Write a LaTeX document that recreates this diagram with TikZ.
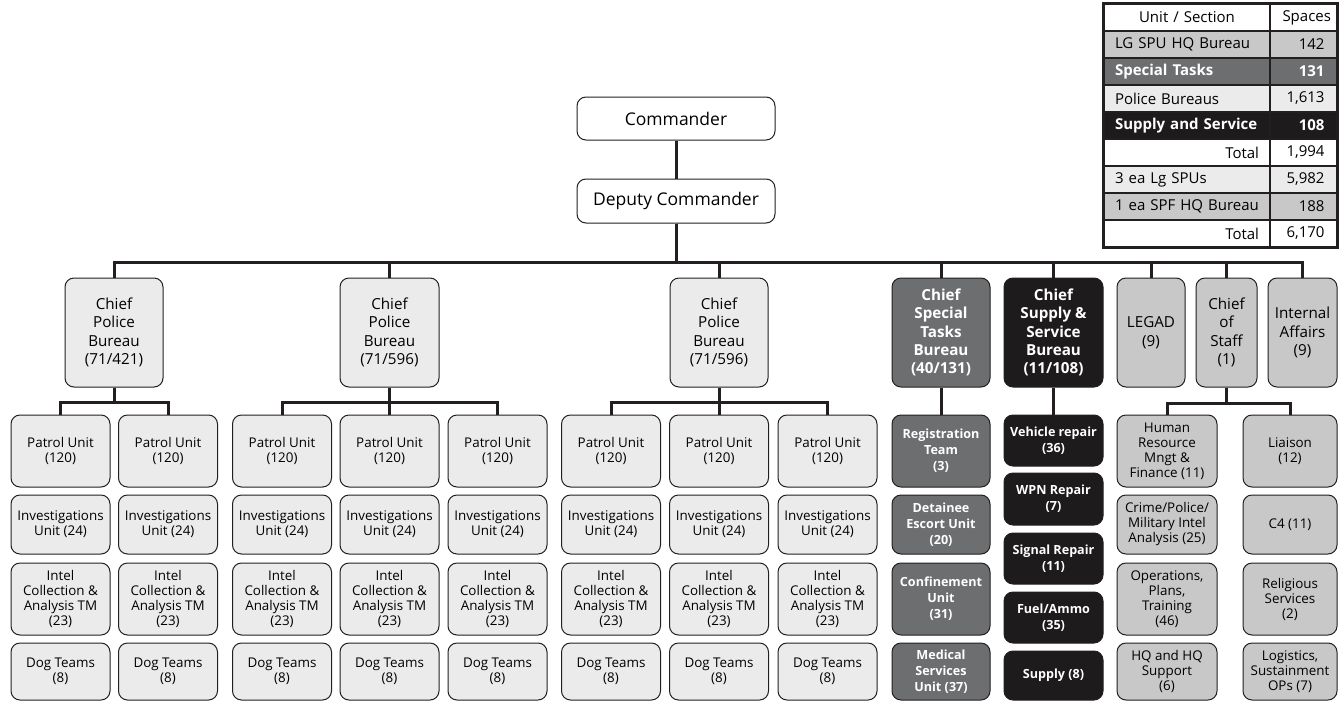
\documentclass[tikz,border=0pt]{standalone}
\usepackage{fontspec}
\setmainfont{Open Sans}
\definecolor{boxlight}{HTML}{EBEBEC}
\definecolor{boxmid}{HTML}{C8C8C9}
\definecolor{boxdark}{HTML}{6D6E70}
\definecolor{boxblack}{HTML}{1E1B1C}
\definecolor{inkline}{HTML}{231F20}
\tikzset{
  box/.style={draw=inkline, line width=1pt, rounded corners=9pt, align=center, inner sep=1pt},
  lightbox/.style={box, fill=boxlight},
  midbox/.style={box, fill=boxmid},
  darkbox/.style={box, fill=boxdark, text=white, font=\bfseries\fontsize{12.6}{16}\selectfont},
  blackbox/.style={box, fill=boxblack, text=white, font=\bfseries\fontsize{12.6}{16}\selectfont},
  topbox/.style={lightbox, fill=white, minimum width=198pt, font=\fontsize{17.5}{20}\selectfont},
  chief/.style={minimum height=109pt, font=\fontsize{15.2}{18.5}\selectfont},
  unit/.style={lightbox, minimum width=99pt, font=\fontsize{13.4}{15}\selectfont},
  link/.style={draw=inkline, line width=3pt},
  cell/.style={draw=inkline, line width=1.4pt, minimum height=27pt, inner ysep=0pt,
    font=\fontsize{15}{17}\selectfont},
  lcell/.style={cell, text width=144pt, inner xsep=11pt},
  rcell/.style={cell, text width=42pt, inner xsep=12.5pt, align=right},
}
\begin{document}
\begin{tikzpicture}[x=1pt, y=-1pt]
    \useasboundingbox (0,0) rectangle (1339,702);

    % Nodes
    \node[topbox, minimum height=43pt] (cmd) at (676,118.5) {Commander};
    \node[topbox, minimum height=44pt] (dep) at (676,201) {Deputy Commander};

    \node[lightbox, chief, minimum width=98pt] (cpb1) at (114,332.5) {Chief\\Police\\Bureau\\(71/421)};
    \node[lightbox, chief, minimum width=99pt] (cpb2) at (389.5,332.5) {Chief\\Police\\Bureau\\(71/596)};
    \node[lightbox, chief, minimum width=98pt] (cpb3) at (719,332.5) {Chief\\Police\\Bureau\\(71/596)};
    \node[darkbox, chief, font=\bfseries\fontsize{15.2}{18.3}\selectfont, minimum width=98pt] (cstb) at (941,332.5) {Chief\\Special\\Tasks\\Bureau\\(40/131)};
    \node[blackbox, chief, font=\bfseries\fontsize{15.2}{18.3}\selectfont, minimum width=99pt] (cssb) at (1053.5,332.5) {Chief\\Supply \&\\Service\\Bureau\\(11/108)};
    \node[midbox, chief, minimum width=68pt] (legad) at (1151,332.5) {LEGAD\\(9)};
    \node[midbox, chief, minimum width=61pt] (cos) at (1226.5,332.5) {Chief\\of\\Staff\\(1)};
    \node[midbox, chief, minimum width=69pt] (ia) at (1302.5,332.5) {Internal\\Affairs\\(9)};

    % police units, one column per unit
    \node[unit, minimum height=72pt] (pu1) at (60.5,451) {Patrol Unit\\(120)};
    \node[unit, minimum height=72pt] (pu2) at (168,451) {Patrol Unit\\(120)};
    \node[unit, minimum height=72pt] (pu3) at (282,451) {Patrol Unit\\(120)};
    \node[unit, minimum height=72pt] (pu4) at (389.5,451) {Patrol Unit\\(120)};
    \node[unit, minimum height=72pt] (pu5) at (497.5,451) {Patrol Unit\\(120)};
    \node[unit, minimum height=72pt] (pu6) at (611,451) {Patrol Unit\\(120)};
    \node[unit, minimum height=72pt] (pu7) at (719,451) {Patrol Unit\\(120)};
    \node[unit, minimum height=72pt] (pu8) at (827.5,451) {Patrol Unit\\(120)};

    \node[unit, minimum height=59pt] (iu1) at (60.5,524.5) {Investigations\\Unit (24)};
    \node[unit, minimum height=59pt] (iu2) at (168,524.5) {Investigations\\Unit (24)};
    \node[unit, minimum height=59pt] (iu3) at (282,524.5) {Investigations\\Unit (24)};
    \node[unit, minimum height=59pt] (iu4) at (389.5,524.5) {Investigations\\Unit (24)};
    \node[unit, minimum height=59pt] (iu5) at (497.5,524.5) {Investigations\\Unit (24)};
    \node[unit, minimum height=59pt] (iu6) at (611,524.5) {Investigations\\Unit (24)};
    \node[unit, minimum height=59pt] (iu7) at (719,524.5) {Investigations\\Unit (24)};
    \node[unit, minimum height=59pt] (iu8) at (827.5,524.5) {Investigations\\Unit (24)};

    \node[unit, minimum height=72pt] (ic1) at (60.5,599) {Intel\\Collection \&\\Analysis TM\\(23)};
    \node[unit, minimum height=72pt] (ic2) at (168,599) {Intel\\Collection \&\\Analysis TM\\(23)};
    \node[unit, minimum height=72pt] (ic3) at (282,599) {Intel\\Collection \&\\Analysis TM\\(23)};
    \node[unit, minimum height=72pt] (ic4) at (389.5,599) {Intel\\Collection \&\\Analysis TM\\(23)};
    \node[unit, minimum height=72pt] (ic5) at (497.5,599) {Intel\\Collection \&\\Analysis TM\\(23)};
    \node[unit, minimum height=72pt] (ic6) at (611,599) {Intel\\Collection \&\\Analysis TM\\(23)};
    \node[unit, minimum height=72pt] (ic7) at (719,599) {Intel\\Collection \&\\Analysis TM\\(23)};
    \node[unit, minimum height=72pt] (ic8) at (827.5,599) {Intel\\Collection \&\\Analysis TM\\(23)};

    \node[unit, minimum height=57pt] (dt1) at (60.5,671.5) {Dog Teams\\(8)};
    \node[unit, minimum height=57pt] (dt2) at (168,671.5) {Dog Teams\\(8)};
    \node[unit, minimum height=57pt] (dt3) at (282,671.5) {Dog Teams\\(8)};
    \node[unit, minimum height=57pt] (dt4) at (389.5,671.5) {Dog Teams\\(8)};
    \node[unit, minimum height=57pt] (dt5) at (497.5,671.5) {Dog Teams\\(8)};
    \node[unit, minimum height=57pt] (dt6) at (611,671.5) {Dog Teams\\(8)};
    \node[unit, minimum height=57pt] (dt7) at (719,671.5) {Dog Teams\\(8)};
    \node[unit, minimum height=57pt] (dt8) at (827.5,671.5) {Dog Teams\\(8)};

    % special tasks
    \node[darkbox, minimum width=98pt, minimum height=72pt] (reg) at (941,451) {Registration\\Team\\(3)};
    \node[darkbox, minimum width=98pt, minimum height=59pt] (deu) at (941,524.5) {Detainee\\Escort Unit\\(20)};
    \node[darkbox, minimum width=98pt, minimum height=72pt] (con) at (941,599) {Confinement\\Unit\\(31)};
    \node[darkbox, minimum width=98pt, minimum height=57pt] (med) at (941,671.5) {Medical\\Services\\Unit (37)};

    % supply and service
    \node[blackbox, minimum width=99pt, minimum height=51pt] (veh) at (1053.5,440.5) {Vehicle repair\\(36)};
    \node[blackbox, minimum width=99pt, minimum height=52pt] (wpn) at (1053.5,499) {WPN Repair\\(7)};
    \node[blackbox, minimum width=99pt, minimum height=51pt] (sig) at (1053.5,558.5) {Signal Repair\\(11)};
    \node[blackbox, minimum width=99pt, minimum height=51pt] (fuel) at (1053.5,617.5) {Fuel/Ammo\\(35)};
    \node[blackbox, minimum width=99pt, minimum height=49pt] (sup) at (1053.5,675.5) {Supply (8)};

    % staff sections
    \node[midbox, unit, fill=boxmid, minimum width=100pt, minimum height=72pt] (hr) at (1167,451) {Human\\Resource\\Mngt \&\\Finance (11)};
    \node[midbox, unit, fill=boxmid, minimum width=100pt, minimum height=59pt] (cpm) at (1167,524.5) {Crime/Police/\\Military Intel\\Analysis (25)};
    \node[midbox, unit, fill=boxmid, minimum width=100pt, minimum height=72pt] (opt) at (1167,599) {Operations,\\Plans,\\Training\\(46)};
    \node[midbox, unit, fill=boxmid, minimum width=100pt, minimum height=57pt] (hqs) at (1167,671.5) {HQ and HQ\\Support\\(6)};
    \node[midbox, unit, fill=boxmid, minimum width=94pt, minimum height=72pt] (lia) at (1290,451) {Liaison\\(12)};
    \node[midbox, unit, fill=boxmid, minimum width=94pt, minimum height=59pt] (cfour) at (1290,524.5) {C4 (11)};
    \node[midbox, unit, fill=boxmid, minimum width=94pt, minimum height=72pt] (rel) at (1290,599) {Religious\\Services\\(2)};
    \node[midbox, unit, fill=boxmid, minimum width=94pt, minimum height=57pt] (log) at (1290,671.5) {Logistics,\\Sustainment\\OPs (7)};

    % Edges
    \draw[link] (cmd) -- (dep);
    \draw[link] (dep.south) -- ++(0,39) -| (cpb1.north);
    \draw[link] (dep.south) -- ++(0,39) -| (cpb2.north);
    \draw[link] (dep.south) -- ++(0,39) -| (cpb3.north);
    \draw[link] (dep.south) -- ++(0,39) -| (cstb.north);
    \draw[link] (dep.south) -- ++(0,39) -| (cssb.north);
    \draw[link] (dep.south) -- ++(0,39) -| (legad.north);
    \draw[link] (dep.south) -- ++(0,39) -| (cos.north);
    \draw[link] (dep.south) -- ++(0,39) -| (ia.north);

    \draw[link] (cpb1.south) -- ++(0,15) -| (pu1.north);
    \draw[link] (cpb1.south) -- ++(0,15) -| (pu2.north);
    \draw[link] (cpb2.south) -- ++(0,15) -| (pu3.north);
    \draw[link] (cpb2.south) -- ++(0,15) -| (pu4.north);
    \draw[link] (cpb2.south) -- ++(0,15) -| (pu5.north);
    \draw[link] (cpb3.south) -- ++(0,15) -| (pu6.north);
    \draw[link] (cpb3.south) -- ++(0,15) -| (pu7.north);
    \draw[link] (cpb3.south) -- ++(0,15) -| (pu8.north);
    \draw[link] (cstb) -- (reg);
    \draw[link] (cssb) -- (veh);
    \draw[link] (cos.south) -- ++(0,16) -| (hr.north);
    \draw[link] (cos.south) -- ++(0,16) -| (lia.north);

    % Table
    \node[lcell, align=center] (h1) at (1187,17.5) {Unit / Section};
    \node[rcell, align=center] (h2) at (1303.5,17.5) {Spaces};
    \node[lcell, align=left, fill=boxmid] (r1a) at (1187,44.5) {LG SPU HQ Bureau};
    \node[rcell, fill=boxmid] (r1b) at (1303.5,44.5) {142};
    \node[lcell, align=left, fill=boxdark, text=white, font=\bfseries\fontsize{15}{17}\selectfont] (r2a) at (1187,71.5) {Special Tasks};
    \node[rcell, fill=boxdark, text=white, font=\bfseries\fontsize{15}{17}\selectfont] (r2b) at (1303.5,71.5) {131};
    \node[lcell, align=left, fill=boxlight] (r3a) at (1187,98.5) {Police Bureaus};
    \node[rcell, fill=boxlight] (r3b) at (1303.5,98.5) {1,613};
    \node[lcell, align=left, fill=boxblack, text=white, font=\bfseries\fontsize{15}{17}\selectfont] (r4a) at (1187,125.5) {Supply and Service};
    \node[rcell, fill=boxblack, text=white, font=\bfseries\fontsize{15}{17}\selectfont] (r4b) at (1303.5,125.5) {108};
    \node[lcell, align=right] (r5a) at (1187,152.5) {Total};
    \node[rcell] (r5b) at (1303.5,152.5) {1,994};
    \node[lcell, align=left, fill=boxlight] (r6a) at (1187,179.5) {3 ea Lg SPUs};
    \node[rcell, fill=boxlight] (r6b) at (1303.5,179.5) {5,982};
    \node[lcell, align=left, fill=boxmid] (r7a) at (1187,206.5) {1 ea SPF HQ Bureau};
    \node[rcell, fill=boxmid] (r7b) at (1303.5,206.5) {188};
    \node[lcell, align=right] (r8a) at (1187,233.5) {Total};
    \node[rcell] (r8b) at (1303.5,233.5) {6,170};
    \draw[inkline, line width=2.6pt] (h1.north west) rectangle (r8b.south east);
\end{tikzpicture}
\end{document}
